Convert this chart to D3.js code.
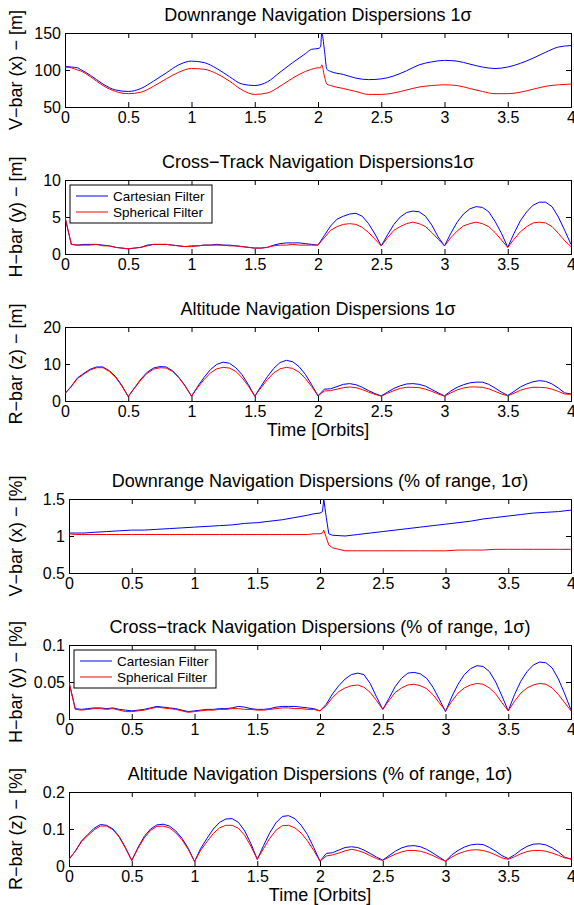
<!DOCTYPE html>
<html>
<head>
<meta charset="utf-8">
<script src="https://cdn.jsdelivr.net/npm/d3@7"></script>
<style>
  body { margin: 0; background: #fff; }
  svg { display: block; font-family: "Liberation Sans", Arial, sans-serif; }
</style>
</head>
<body>
<div id="chart"></div>
<script>
// sample times (orbits) for the arch-shaped panels
const tGrid = [0, 0.05, 0.1, 0.15, 0.2, 0.25, 0.3, 0.35, 0.4, 0.45, 0.5, 0.55, 0.6, 0.65, 0.7, 0.75, 0.8, 0.85, 0.9, 0.95,
  1, 1.05, 1.1, 1.15, 1.2, 1.25, 1.3, 1.35, 1.4, 1.45, 1.5, 1.55, 1.6, 1.65, 1.7, 1.75, 1.8, 1.85, 1.9, 1.95,
  2, 2.05, 2.1, 2.15, 2.2, 2.25, 2.3, 2.35, 2.4, 2.45, 2.5, 2.55, 2.6, 2.65, 2.7, 2.75, 2.8, 2.85, 2.9, 2.95,
  3, 3.05, 3.1, 3.15, 3.2, 3.25, 3.3, 3.35, 3.4, 3.45, 3.5, 3.55, 3.6, 3.65, 3.7, 3.75, 3.8, 3.85, 3.9, 3.95, 4];

// sample times for the downrange panels (denser around the spike)
const tDown = [0, 0.05, 0.1, 0.12, 0.2, 0.3, 0.4, 0.5, 0.6, 0.7, 0.8, 0.9, 1, 1.1, 1.2, 1.3, 1.4, 1.5, 1.6, 1.7, 1.8, 1.9, 1.95,
  2, 2.02, 2.03, 2.05, 2.07, 2.1, 2.2, 2.3, 2.4, 2.5, 2.6, 2.7, 2.8, 2.9, 3, 3.1, 3.2, 3.3, 3.4, 3.5, 3.6, 3.7, 3.8, 3.9, 4];

const seriesNames = ["Cartesian Filter", "Spherical Filter"];
const xTicks = [0, 0.5, 1, 1.5, 2, 2.5, 3, 3.5, 4];

// Downrange [m]
const downCart = [105, 104, 103, 101, 93, 81, 73, 71, 75, 85, 96, 107, 112, 110, 102, 91, 81, 79, 84, 97, 110, 122, 128,
  129, 131, 150, 128, 101, 98, 94, 89, 87, 88, 92, 99, 107, 111, 113, 112, 108, 104, 102, 104, 109, 116, 124, 131, 133];
const downSph = [104, 103, 100, 99, 91, 79, 71, 68, 70, 78, 88, 97, 102, 101, 95, 85, 73, 67, 69, 78, 89, 98, 101,
  103, 103, 107, 92, 81, 79, 75, 71, 67, 67, 69, 73, 77, 79, 80, 79, 75, 71, 68, 68, 70, 74, 78, 80, 81];

// Cross-track [m]
const crossCart = [5.0, 1.3, 1.2, 1.3, 1.3, 1.3, 1.2, 1.1, 0.9, 0.8, 0.7, 0.8, 0.9, 1.2, 1.3, 1.3, 1.3, 1.2, 1.1, 1.0,
  1.1, 1.1, 1.2, 1.2, 1.3, 1.2, 1.2, 1.1, 1.0, 0.9, 0.8, 0.8, 0.9, 1.2, 1.4, 1.5, 1.5, 1.5, 1.4, 1.3,
  1.2, 2.5, 3.8, 4.7, 5.1, 5.4, 5.5, 5.1, 4.1, 2.7, 1.1, 2.6, 4.0, 5.0, 5.6, 5.8, 5.7, 5.1, 3.9, 2.3,
  1.1, 2.8, 4.3, 5.4, 6.1, 6.4, 6.3, 5.7, 4.4, 2.8, 0.9, 2.8, 4.5, 5.7, 6.6, 7.0, 7.0, 6.4, 5.0, 3.2, 1.3];
const crossSph = [5.0, 1.3, 1.2, 1.2, 1.2, 1.3, 1.1, 1.1, 0.9, 0.8, 0.7, 0.8, 0.9, 1.1, 1.3, 1.3, 1.3, 1.2, 1.1, 1.0,
  1.0, 1.1, 1.2, 1.2, 1.2, 1.2, 1.1, 1.1, 1.0, 0.9, 0.8, 0.8, 0.9, 1.1, 1.2, 1.2, 1.3, 1.2, 1.2, 1.2,
  1.2, 2.2, 3.2, 3.7, 4.0, 4.1, 4.0, 3.6, 2.9, 2.0, 1.1, 2.2, 3.2, 3.7, 4.1, 4.3, 4.1, 3.7, 2.9, 2.0,
  1.1, 2.2, 3.1, 3.8, 4.1, 4.3, 4.1, 3.7, 2.9, 1.9, 0.9, 2.0, 3.0, 3.7, 4.2, 4.3, 4.2, 3.7, 2.8, 1.8, 1.0];

// Altitude [m]
const altCart = [2.0, 4.0, 6.3, 7.5, 8.6, 9.2, 9.2, 8.2, 6.6, 4.2, 1.2, 3.6, 5.9, 7.8, 8.9, 9.3, 9.2, 8.2, 6.4, 4.1,
  1.3, 4.0, 6.4, 8.5, 9.9, 10.5, 10.2, 9.0, 7.1, 4.4, 1.3, 4.0, 6.6, 8.8, 10.4, 11.0, 10.6, 9.3, 7.2, 4.4,
  1.4, 3.2, 3.3, 3.9, 4.5, 4.7, 4.4, 3.7, 2.8, 2.0, 1.4, 2.4, 3.4, 4.1, 4.6, 4.7, 4.5, 4.0, 3.1, 2.2,
  1.4, 2.7, 3.7, 4.4, 4.9, 5.1, 5.1, 4.5, 3.5, 2.4, 1.5, 2.6, 3.8, 4.6, 5.2, 5.5, 5.3, 4.6, 3.5, 2.2, 1.9];
const altSph = [2.0, 3.9, 6.1, 7.3, 8.4, 9.0, 9.0, 8.0, 6.4, 4.0, 1.2, 3.5, 5.7, 7.5, 8.6, 9.0, 8.9, 8.0, 6.3, 4.0,
  1.3, 3.7, 5.8, 7.6, 8.7, 9.1, 8.9, 8.0, 6.3, 4.0, 1.3, 3.6, 5.8, 7.6, 8.7, 9.1, 8.8, 7.8, 6.1, 3.9,
  1.4, 2.7, 2.8, 3.2, 3.6, 3.8, 3.6, 3.1, 2.4, 1.8, 1.3, 2.1, 2.8, 3.4, 3.7, 3.7, 3.6, 3.2, 2.6, 1.9,
  1.3, 2.2, 3.0, 3.5, 3.8, 3.8, 3.7, 3.3, 2.6, 1.9, 1.4, 2.1, 2.9, 3.4, 3.7, 3.7, 3.6, 3.2, 2.6, 1.9, 1.8];

// Downrange [% of range]
const downPctCart = [1.04, 1.04, 1.04, 1.04, 1.05, 1.06, 1.07, 1.08, 1.08, 1.09, 1.10, 1.11, 1.12, 1.13, 1.14, 1.15, 1.17, 1.18, 1.20, 1.22, 1.25, 1.28, 1.30,
  1.31, 1.33, 1.50, 1.25, 1.03, 1.01, 1.00, 1.02, 1.04, 1.06, 1.08, 1.10, 1.12, 1.14, 1.16, 1.18, 1.20, 1.23, 1.25, 1.27, 1.29, 1.31, 1.32, 1.33, 1.35];
const downPctSph = [1.03, 1.02, 1.02, 1.02, 1.02, 1.02, 1.02, 1.02, 1.02, 1.02, 1.02, 1.02, 1.02, 1.02, 1.02, 1.02, 1.02, 1.02, 1.02, 1.02, 1.02, 1.02, 1.03,
  1.03, 1.04, 1.08, 0.98, 0.88, 0.84, 0.80, 0.80, 0.80, 0.80, 0.80, 0.80, 0.80, 0.80, 0.80, 0.81, 0.81, 0.81, 0.82, 0.82, 0.82, 0.82, 0.82, 0.82, 0.82];

// Cross-track [% of range]
const crossPctCart = [0.050, 0.014, 0.013, 0.014, 0.015, 0.015, 0.014, 0.015, 0.013, 0.012, 0.011, 0.012, 0.013, 0.015, 0.017, 0.016, 0.015, 0.014, 0.012, 0.010,
  0.011, 0.012, 0.013, 0.013, 0.014, 0.014, 0.015, 0.017, 0.016, 0.014, 0.013, 0.013, 0.014, 0.016, 0.017, 0.017, 0.017, 0.016, 0.015, 0.014,
  0.011, 0.020, 0.034, 0.045, 0.054, 0.060, 0.062, 0.060, 0.048, 0.030, 0.013, 0.028, 0.044, 0.055, 0.062, 0.063, 0.061, 0.055, 0.043, 0.027,
  0.010, 0.030, 0.047, 0.060, 0.068, 0.072, 0.071, 0.064, 0.050, 0.031, 0.011, 0.033, 0.051, 0.064, 0.073, 0.077, 0.076, 0.069, 0.054, 0.034, 0.012];
const crossPctSph = [0.050, 0.013, 0.012, 0.013, 0.014, 0.014, 0.013, 0.014, 0.012, 0.010, 0.010, 0.011, 0.012, 0.014, 0.016, 0.015, 0.014, 0.013, 0.011, 0.009,
  0.010, 0.011, 0.012, 0.012, 0.013, 0.013, 0.014, 0.014, 0.013, 0.013, 0.012, 0.012, 0.013, 0.014, 0.015, 0.015, 0.014, 0.014, 0.013, 0.013,
  0.011, 0.018, 0.029, 0.037, 0.042, 0.045, 0.046, 0.043, 0.036, 0.025, 0.013, 0.025, 0.036, 0.042, 0.046, 0.047, 0.045, 0.041, 0.033, 0.022,
  0.011, 0.024, 0.035, 0.042, 0.046, 0.048, 0.047, 0.042, 0.034, 0.022, 0.011, 0.024, 0.035, 0.042, 0.046, 0.048, 0.047, 0.042, 0.033, 0.022, 0.011];

// Altitude [% of range]
const altPctCart = [0.018, 0.040, 0.068, 0.085, 0.102, 0.112, 0.110, 0.100, 0.080, 0.050, 0.015, 0.050, 0.080, 0.100, 0.111, 0.113, 0.108, 0.095, 0.075, 0.048,
  0.012, 0.048, 0.075, 0.100, 0.118, 0.127, 0.128, 0.118, 0.095, 0.060, 0.018, 0.055, 0.090, 0.117, 0.134, 0.136, 0.128, 0.110, 0.085, 0.050,
  0.013, 0.034, 0.036, 0.043, 0.050, 0.052, 0.050, 0.043, 0.034, 0.024, 0.016, 0.028, 0.040, 0.049, 0.054, 0.055, 0.052, 0.045, 0.035, 0.024,
  0.013, 0.030, 0.042, 0.051, 0.057, 0.059, 0.058, 0.050, 0.040, 0.028, 0.020, 0.030, 0.043, 0.053, 0.059, 0.060, 0.057, 0.049, 0.038, 0.024, 0.018];
const altPctSph = [0.018, 0.040, 0.066, 0.082, 0.098, 0.108, 0.108, 0.098, 0.078, 0.048, 0.015, 0.048, 0.076, 0.096, 0.107, 0.108, 0.103, 0.090, 0.071, 0.045,
  0.012, 0.043, 0.066, 0.088, 0.103, 0.110, 0.110, 0.102, 0.083, 0.053, 0.018, 0.047, 0.075, 0.097, 0.109, 0.110, 0.103, 0.089, 0.068, 0.042,
  0.013, 0.027, 0.030, 0.035, 0.041, 0.045, 0.042, 0.036, 0.028, 0.020, 0.015, 0.024, 0.032, 0.038, 0.042, 0.042, 0.040, 0.035, 0.028, 0.020,
  0.013, 0.024, 0.033, 0.039, 0.043, 0.044, 0.042, 0.037, 0.030, 0.022, 0.018, 0.025, 0.033, 0.039, 0.042, 0.042, 0.040, 0.035, 0.029, 0.022, 0.020];

const panels = [
  { title: "Downrange Navigation Dispersions 1\u03c3", ylabel: "V\u2212bar (x) \u2212 [m]", t: tDown, cart: downCart, sph: downSph,
    domain: [50, 150], yTicks: [50, 100, 150], top: 33, left: 65, smooth: true },
  { title: "Cross\u2212Track Navigation Dispersions1\u03c3", ylabel: "H\u2212bar (y) \u2212 [m]", t: tGrid, cart: crossCart, sph: crossSph,
    domain: [0, 10], yTicks: [0, 5, 10], top: 180, left: 65, legend: true },
  { title: "Altitude Navigation Dispersions 1\u03c3", ylabel: "R\u2212bar (z) \u2212 [m]", t: tGrid, cart: altCart, sph: altSph,
    domain: [0, 20], yTicks: [0, 10, 20], top: 327, left: 65, xlabel: true },
  { title: "Downrange Navigation Dispersions (% of range, 1\u03c3)", ylabel: "V\u2212bar (x) \u2212 [%]", t: tDown, cart: downPctCart, sph: downPctSph,
    domain: [0.5, 1.5], yTicks: [0.5, 1, 1.5], top: 499, left: 69 },
  { title: "Cross\u2212track Navigation Dispersions (% of range, 1\u03c3)", ylabel: "H\u2212bar (y) \u2212 [%]", t: tGrid, cart: crossPctCart, sph: crossPctSph,
    domain: [0, 0.1], yTicks: [0, 0.05, 0.1], top: 645, left: 69, legend: true },
  { title: "Altitude Navigation Dispersions (% of range, 1\u03c3)", ylabel: "R\u2212bar (z) \u2212 [%]", t: tGrid, cart: altPctCart, sph: altPctSph,
    domain: [0, 0.2], yTicks: [0, 0.1, 0.2], top: 792, left: 69, xlabel: true }
];

const width = 574;
const height = 905;
const right = 571;
const plotH = 74;
const colors = ["#0000ff", "#ff0000"];
const fmt = (d) => String(d);

const svg = d3.select("#chart").append("svg").attr("width", width).attr("height", height);

panels.forEach((p, idx) => {
  const x = d3.scaleLinear().domain([0, 4]).range([p.left, right]);
  const y = d3.scaleLinear().domain(p.domain).range([p.top + plotH, p.top]);
  const g = svg.append("g");

  g.append("clipPath").attr("id", "clip" + idx)
    .append("rect").attr("x", p.left).attr("y", p.top).attr("width", right - p.left).attr("height", plotH);

  // axes, MATLAB style: ticks inward on all sides
  g.append("g").attr("transform", `translate(0,${p.top + plotH})`)
    .call(d3.axisBottom(x).tickValues(xTicks).tickSize(-5).tickPadding(5).tickFormat(fmt));
  g.append("g").attr("transform", `translate(0,${p.top})`)
    .call(d3.axisTop(x).tickValues(xTicks).tickSize(-5).tickFormat(""));
  g.append("g").attr("transform", `translate(${p.left},0)`)
    .call(d3.axisLeft(y).tickValues(p.yTicks).tickSize(-5).tickPadding(4).tickFormat(fmt));
  g.append("g").attr("transform", `translate(${right},0)`)
    .call(d3.axisRight(y).tickValues(p.yTicks).tickSize(-5).tickFormat(""));

  g.selectAll(".domain").attr("stroke", "#000").attr("stroke-width", 1);
  g.selectAll(".tick line").attr("stroke", "#000");
  g.selectAll(".tick text").attr("font-size", 16).attr("fill", "#000")
    .attr("font-family", "Liberation Sans, Arial, sans-serif");

  const line = d3.line()
    .x((d) => x(d[0]))
    .y((d) => y(d[1]))
    .curve(p.smooth ? d3.curveMonotoneX : d3.curveLinear);

  [p.cart, p.sph].forEach((vals, i) => {
    g.append("path")
      .datum(p.t.map((t, k) => [t, vals[k]]))
      .attr("clip-path", `url(#clip${idx})`)
      .attr("fill", "none")
      .attr("stroke", colors[i])
      .attr("stroke-width", 1)
      .attr("d", line);
  });

  g.append("text")
    .attr("x", (p.left + right) / 2)
    .attr("y", p.top - 12)
    .attr("text-anchor", "middle")
    .attr("font-size", 18)
    .text(p.title);

  g.append("text")
    .attr("transform", `translate(22,${p.top + plotH / 2}) rotate(-90)`)
    .attr("text-anchor", "middle")
    .attr("font-size", 18)
    .text(p.ylabel);

  if (p.xlabel) {
    g.append("text")
      .attr("x", (p.left + right) / 2)
      .attr("y", p.top + plotH + 35)
      .attr("text-anchor", "middle")
      .attr("font-size", 18)
      .text("Time [Orbits]");
  }

  if (p.legend) {
    const lg = g.append("g").attr("transform", `translate(${p.left + 5},${p.top + 5})`);
    lg.append("rect").attr("width", 142).attr("height", 38)
      .attr("fill", "#fff").attr("stroke", "#000").attr("stroke-width", 1);
    seriesNames.forEach((name, i) => {
      lg.append("line").attr("x1", 6).attr("x2", 38).attr("y1", 11 + i * 16).attr("y2", 11 + i * 16)
        .attr("stroke", colors[i]).attr("stroke-width", 1);
      lg.append("text").attr("x", 43).attr("y", 16 + i * 16).attr("font-size", 13.5).text(name);
    });
  }
});
</script>
</body>
</html>
